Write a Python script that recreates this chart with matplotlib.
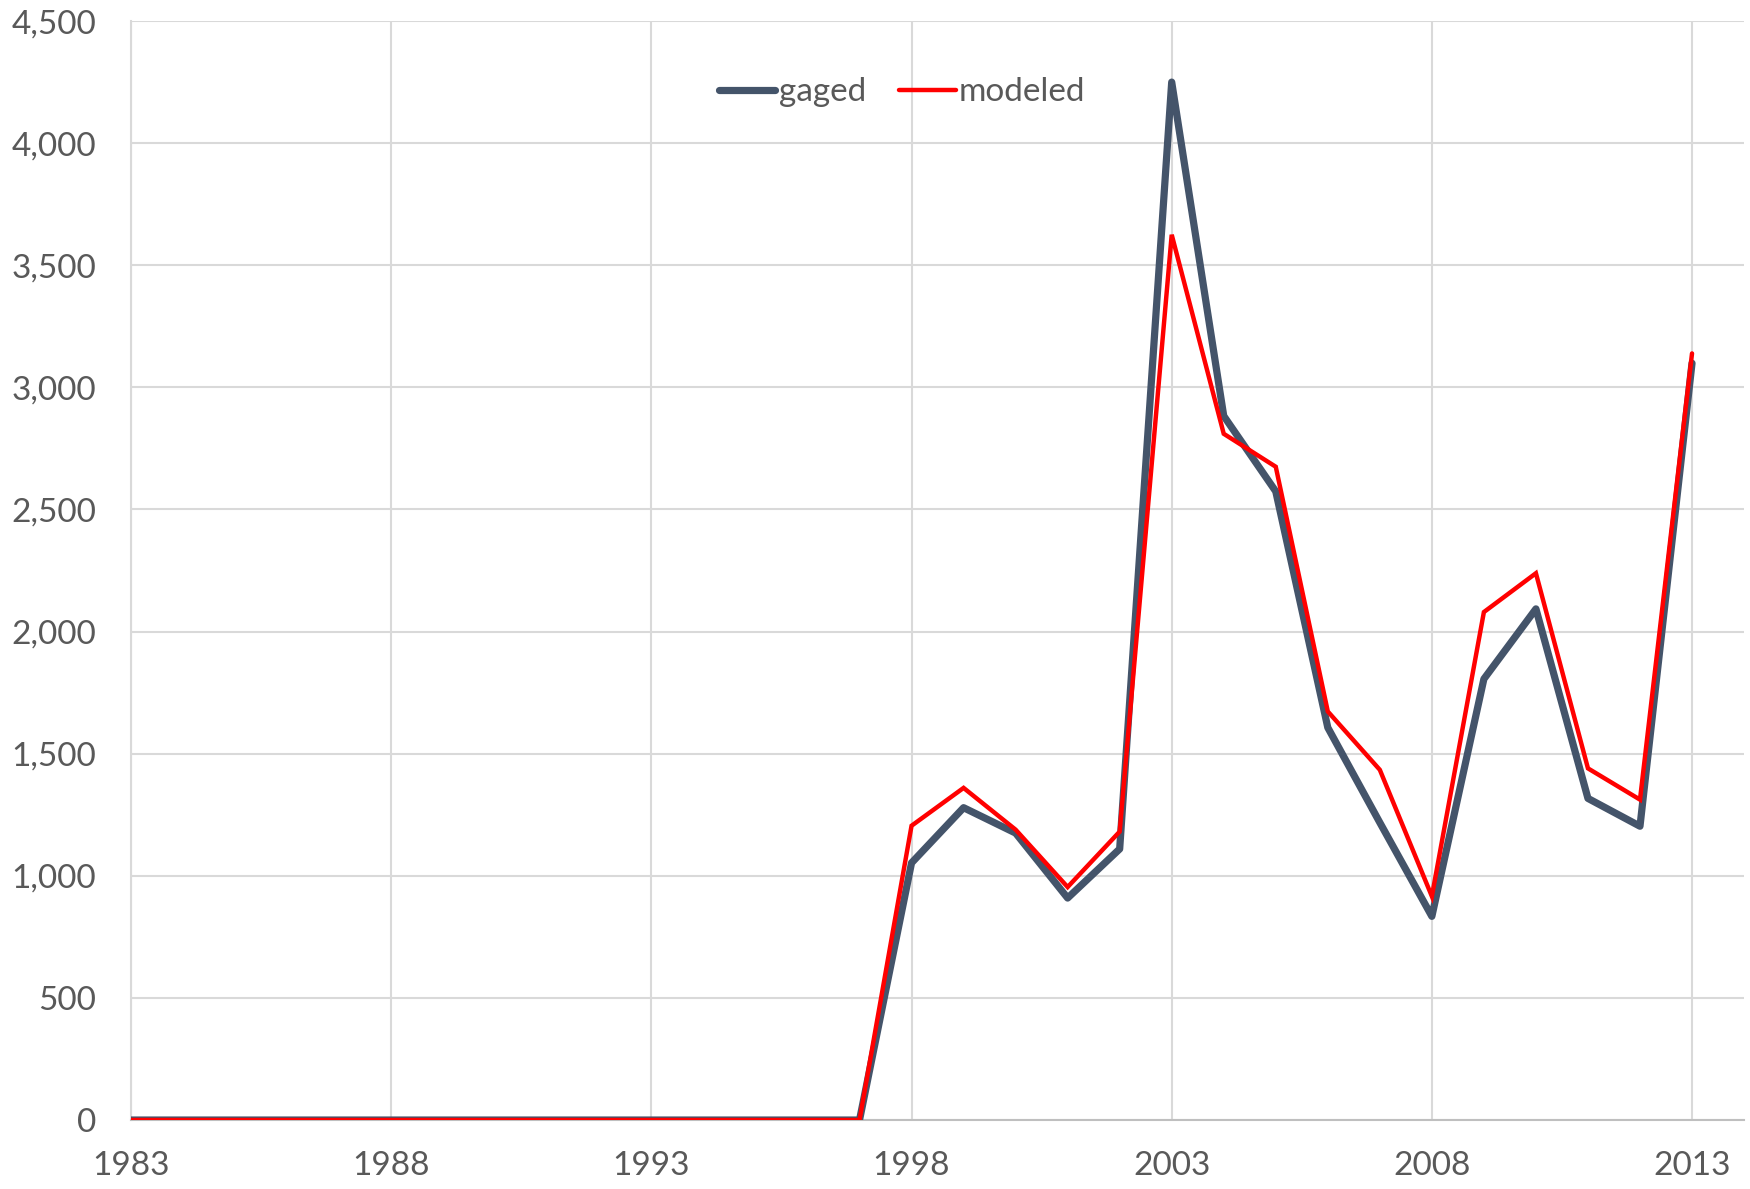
import matplotlib.pyplot as plt
from matplotlib.ticker import FuncFormatter

# Annual values, 1983-2013
years = list(range(1983, 2014))
gaged = [0] * 15 + [1053, 1279, 1175, 909, 1110, 4250, 2883, 2574, 1607, 1218,
                    834, 1806, 2093, 1317, 1203, 3099]
modeled = [0] * 15 + [1205, 1360, 1189, 954, 1181, 3625, 2810, 2675, 1673, 1434,
                      916, 2080, 2239, 1440, 1312, 3139]

x_ticks = [1983, 1988, 1993, 1998, 2003, 2008, 2013]
y_ticks = list(range(0, 4501, 500))

plt.rcParams["font.family"] = ["Lato", "DejaVu Sans"]

fig = plt.figure(figsize=(17.5, 11.89), dpi=100)
ax = fig.add_axes([0.0749, 0.058, 0.9217, 0.9243])

ax.plot(years, gaged, color="#44546A", lw=5.2, solid_capstyle="round",
        solid_joinstyle="round", label="gaged", zorder=3)
ax.plot(years, modeled, color="#FF0000", lw=3.2, solid_capstyle="round",
        solid_joinstyle="miter", label="modeled", zorder=4)

ax.set_xlim(1983, 2014)
ax.set_ylim(0, 4500)
ax.set_xticks(x_ticks)
ax.set_yticks(y_ticks)
ax.yaxis.set_major_formatter(FuncFormatter(lambda v, p: f"{int(v):,}"))

ax.grid(True, color="#D9D9D9", lw=1.5)
ax.set_axisbelow(True)
for side in ["top", "right"]:
    ax.spines[side].set_visible(False)
ax.spines["left"].set_color("#D9D9D9")
ax.spines["left"].set_linewidth(1.5)
ax.spines["bottom"].set_color("#BFBFBF")
ax.spines["bottom"].set_linewidth(1.5)

ax.tick_params(axis="both", length=0, labelsize=24, labelcolor="#595959")
ax.tick_params(axis="y", pad=25)
ax.tick_params(axis="x", pad=22)

ax.legend(loc="center", bbox_to_anchor=(0.478, 0.935), ncol=2, frameon=False,
          fontsize=24, labelcolor="#595959", handlelength=1.7,
          handletextpad=0.1, columnspacing=1.0)

plt.savefig("out.png", dpi=100)
